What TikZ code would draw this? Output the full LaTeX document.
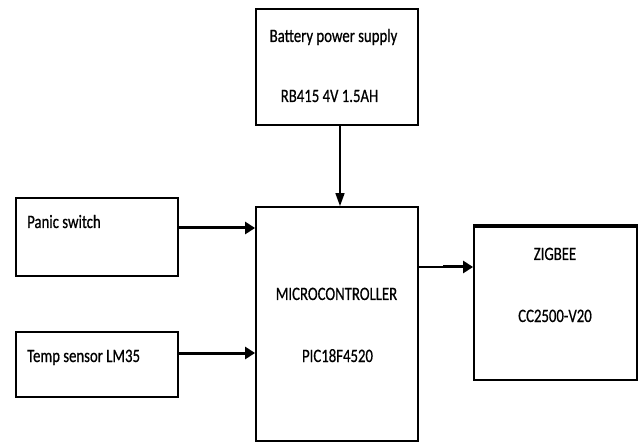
\documentclass[tikz,border=0pt]{standalone}
\usepackage{fontspec}
\setmainfont{Carlito}[FakeStretch=0.78,FakeBold=0.6]
\usetikzlibrary{arrows.meta}
\begin{document}
\begin{tikzpicture}[x=1bp,y=-1bp,
  blk/.style={draw,line width=1.8bp,inner sep=0pt},
  lbl/.style={font=\fontsize{19}{22}\selectfont,inner sep=0pt,anchor=base},
  lbll/.style={font=\fontsize{19}{22}\selectfont,inner sep=0pt,anchor=base west},
  thickarr/.style={line width=3bp,-{Triangle[length=10bp,width=12bp]}},
  thinarr/.style={line width=1.5bp,-{Triangle[length=13bp,width=9bp]}}]
\useasboundingbox (0,0) rectangle (640,443);
% boxes
\node[blk,minimum width=162bp,minimum height=116bp] (bat) at (337,67) {};
\node[blk,minimum width=162bp,minimum height=234bp] (mc) at (337,324) {};
\node[blk,minimum width=162bp,minimum height=78bp] (pan) at (97,237) {};
\node[blk,minimum width=162bp,minimum height=65bp] (tmp) at (97,364.5) {};
\node[blk,minimum width=163bp,minimum height=153bp] (zig) at (555.5,303.5) {};
\draw[line width=3.5bp] (zig.north west) -- (zig.north east);
% texts
\node[lbl] (t1) at (333.5,42) {Battery power supply};
\node[lbl] (t2) at (329.5,102) {RB415 4V 1.5AH};
\node[lbll] (t3) at (27,228) {Panic switch};
\node[lbll] (t4) at (27,362) {Temp sensor LM35};
\node[lbl] (t5) at (336.5,300) {MICROCONTROLLER};
\node[lbl] (t6) at (337.5,362) {PIC18F4520};
\node[lbl] (t7) at (555,260) {ZIGBEE};
\node[lbl] (t8) at (555,322) {CC2500-V20};
% connectors
\draw[thinarr] (bat.south -| 340,0) -- (mc.north -| 340,0);
\draw[thickarr] (pan.east |- 0,228) -- (mc.west |- 0,228);
\draw[thickarr] (tmp.east |- 0,353) -- (mc.west |- 0,353);
\coordinate (mz) at (443,267);
\draw[line width=1.5bp] (mc.east |- mz) -- (mz);
\draw[thickarr] (mz) -- (zig.west |- mz);
\end{tikzpicture}
\end{document}
